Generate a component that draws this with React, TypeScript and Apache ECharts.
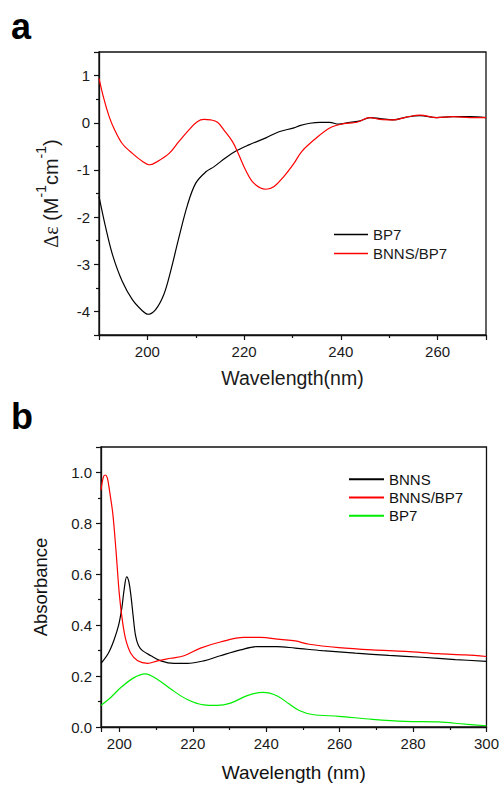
import React, { useEffect, useRef } from 'react';
import * as echarts from 'echarts';

// ---- Panel a: CD spectra ----
const cdBP7Wavelength = [190, 191.4, 192.8, 194.8, 196.9, 199, 200.1, 201.7, 203.4, 204.8, 206.5, 208.3, 210, 212.1, 213.8, 216.2, 218.3, 221, 224.5, 227.2, 230.3, 231.5, 233.6, 235.7, 237.7, 239.5, 241.9, 244, 246, 248.1, 250.8, 253.6, 256.4, 259.8, 263.2, 266.7, 270];
const cdBP7Values = [-1.56, -2.23, -2.8, -3.36, -3.75, -3.99, -4.06, -3.96, -3.64, -3.15, -2.44, -1.74, -1.28, -1.04, -0.93, -0.74, -0.6, -0.47, -0.32, -0.19, -0.11, -0.06, -0.01, 0.01, 0.01, -0.03, 0.01, 0.04, 0.11, 0.09, 0.06, 0.12, 0.15, 0.11, 0.13, 0.13, 0.11];

const cdMixWavelength = [190, 191, 192.1, 193.1, 194.8, 196.9, 199, 200.5, 202.1, 204.5, 206.5, 208.6, 210.3, 211.7, 213.1, 214.5, 215.8, 217.6, 218.9, 220.3, 222, 224.5, 226.2, 228.2, 230.3, 231.9, 234.6, 237.7, 240.5, 243.3, 246, 248.1, 250.8, 253.6, 256.4, 259.8, 263.2, 266.7, 270];
const cdMixValues = [0.94, 0.51, 0.13, -0.12, -0.44, -0.65, -0.82, -0.89, -0.82, -0.65, -0.4, -0.15, 0.02, 0.07, 0.06, 0.01, -0.15, -0.4, -0.68, -1.0, -1.28, -1.41, -1.35, -1.14, -0.86, -0.61, -0.35, -0.11, -0.02, 0.01, 0.11, 0.07, 0.06, 0.12, 0.16, 0.11, 0.13, 0.11, 0.11];

// ---- Panel b: UV absorbance ----
const uvBNNSWavelength = [195, 197, 198.5, 199.8, 200.7, 201.3, 202, 202.6, 203.2, 203.8, 204.4, 205.2, 206.3, 208.6, 211.3, 214.9, 218.5, 223, 227.5, 233, 237.5, 242.9, 247.9, 255.3, 264.3, 273.4, 282.4, 291.5, 300];
const uvBNNSValues = [0.25, 0.29, 0.34, 0.4, 0.47, 0.54, 0.59, 0.57, 0.51, 0.43, 0.36, 0.32, 0.3, 0.28, 0.26, 0.25, 0.25, 0.26, 0.28, 0.303, 0.316, 0.316, 0.31, 0.3, 0.29, 0.281, 0.274, 0.265, 0.258];

const uvMixWavelength = [195, 195.6, 196.1, 196.7, 197.3, 198.2, 199.1, 200, 200.9, 201.8, 203.1, 205, 207.7, 210.4, 214, 217.6, 222.1, 227.5, 233.9, 238.4, 243.8, 247.9, 251.7, 259.8, 268.9, 277.9, 286.9, 294.2, 300];
const uvMixValues = [0.93, 0.98, 0.99, 0.98, 0.93, 0.84, 0.69, 0.52, 0.41, 0.34, 0.29, 0.26, 0.25, 0.26, 0.27, 0.28, 0.31, 0.334, 0.352, 0.352, 0.344, 0.338, 0.325, 0.312, 0.303, 0.297, 0.288, 0.283, 0.277];

const uvBP7Wavelength = [195, 197.7, 200.4, 204, 207, 210.4, 214, 218.5, 223, 226.6, 230.3, 234.8, 239.1, 242.9, 246.3, 249, 252.6, 259.8, 268.9, 277.9, 286.9, 294.2, 300];
const uvBP7Values = [0.085, 0.117, 0.155, 0.194, 0.209, 0.187, 0.149, 0.108, 0.087, 0.085, 0.094, 0.123, 0.136, 0.123, 0.09, 0.065, 0.049, 0.042, 0.03, 0.022, 0.02, 0.011, 0.005];

const legendA = ['BP7', 'BNNS/BP7'];
const legendB = ['BNNS', 'BNNS/BP7', 'BP7'];

const pair = (xs: number[], ys: number[]) => xs.map((x, i) => [x, ys[i]]);

const FONT = '"Liberation Sans", Arial, sans-serif';
const AX = '#111';

const axisCommon = (labelFmt: (v: number) => string) => ({
  type: 'value' as const,
  axisLine: { show: true, onZero: false, lineStyle: { color: AX, width: 1.3 } },
  axisTick: { show: true, inside: false, length: 5, lineStyle: { color: AX, width: 1.2 } },
  minorTick: { show: true, splitNumber: 2, length: 3, lineStyle: { color: AX, width: 1.2 } },
  splitLine: { show: false },
  minorSplitLine: { show: false },
  axisLabel: { fontSize: 15, fontFamily: FONT, color: '#1a1a1a', margin: 9, formatter: labelFmt },
});

const lineSeries = (name: string, data: number[][], color: string) => ({
  type: 'line' as const,
  name,
  data,
  showSymbol: false,
  symbol: 'none',
  smooth: 0.35,
  lineStyle: { color, width: 1.2 },
  itemStyle: { color },
});

export default function App() {
  const refA = useRef<HTMLDivElement>(null);
  const refB = useRef<HTMLDivElement>(null);

  useEffect(() => {
    const chartA = echarts.init(refA.current!, null, { renderer: 'svg' });
    const chartB = echarts.init(refB.current!, null, { renderer: 'svg' });

    chartA.setOption({
      animation: false,
      backgroundColor: '#fff',
      graphic: [
        { type: 'text', left: 11, top: 8, style: { text: 'a', fontSize: 36, fontWeight: 'bold', fontFamily: FONT, fill: '#000' } },
      ],
      grid: { left: 99, top: 52, width: 387, height: 284, show: true, borderColor: AX, borderWidth: 1.3, backgroundColor: 'transparent' },
      legend: {
        orient: 'vertical',
        left: 329,
        top: 220,
        data: legendA,
        icon: 'rect',
        itemWidth: 34,
        itemHeight: 1.5,
        itemGap: 0,
        selectedMode: false,
        textStyle: { fontSize: 15, fontFamily: FONT, color: '#1a1a1a', lineHeight: 19 },
      },
      xAxis: {
        ...axisCommon((v: number) => (v % 20 === 0 ? String(v) : '')),
        min: 190,
        max: 270,
        name: 'Wavelength(nm)',
        nameLocation: 'middle',
        nameGap: 33,
        nameTextStyle: { fontSize: 19.5, fontFamily: FONT, color: '#1a1a1a' },
      },
      yAxis: {
        ...axisCommon((v: number) => (Number.isInteger(v) ? String(v) : '')),
        min: -4.5,
        max: 1.5,
        name: '{g|Δε} {t|(M}{s|-1}{t|cm}{s|-1}{t|)}',
        nameLocation: 'middle',
        nameGap: 38,
        nameRotate: 90,
        nameTextStyle: {
          fontSize: 20,
          fontFamily: FONT,
          color: '#1a1a1a',
          rich: {
            g: { fontSize: 20, fontFamily: '"Liberation Serif", serif', color: '#1a1a1a', lineHeight: 27, verticalAlign: 'bottom' },
            t: { fontSize: 20, fontFamily: FONT, color: '#1a1a1a', lineHeight: 27, verticalAlign: 'bottom' },
            s: { fontSize: 14, fontFamily: FONT, color: '#1a1a1a', lineHeight: 27, verticalAlign: 'top' },
          },
        },
      },
      series: [
        lineSeries('BP7', pair(cdBP7Wavelength, cdBP7Values), '#000000'),
        lineSeries('BNNS/BP7', pair(cdMixWavelength, cdMixValues), '#ff0000'),
      ],
    });

    chartB.setOption({
      animation: false,
      backgroundColor: '#fff',
      graphic: [
        { type: 'text', left: 11, top: 5, style: { text: 'b', fontSize: 36, fontWeight: 'bold', fontFamily: FONT, fill: '#000' } },
      ],
      grid: { left: 101, top: 54, width: 387, height: 285, show: true, borderColor: AX, borderWidth: 1.3, backgroundColor: 'transparent' },
      legend: {
        orient: 'vertical',
        left: 344,
        top: 72,
        data: legendB,
        icon: 'rect',
        itemWidth: 35,
        itemHeight: 2,
        itemGap: 0,
        selectedMode: false,
        textStyle: { fontSize: 15, fontFamily: FONT, color: '#111', lineHeight: 18.3 },
      },
      xAxis: {
        ...axisCommon((v: number) => (v % 20 === 0 ? String(v) : '')),
        min: 195,
        max: 300,
        name: 'Wavelength (nm)',
        nameLocation: 'middle',
        nameGap: 36,
        nameTextStyle: { fontSize: 19, fontFamily: FONT, color: '#111' },
      },
      yAxis: {
        ...axisCommon((v: number) => (v > 1.05 ? '' : v.toFixed(1))),
        min: 0,
        max: 1.1,
        name: 'Absorbance',
        nameLocation: 'middle',
        nameGap: 51,
        nameRotate: 90,
        nameTextStyle: { fontSize: 18.5, fontFamily: FONT, color: '#111' },
      },
      series: [
        lineSeries('BNNS', pair(uvBNNSWavelength, uvBNNSValues), '#000000'),
        lineSeries('BNNS/BP7', pair(uvMixWavelength, uvMixValues), '#ff0000'),
        lineSeries('BP7', pair(uvBP7Wavelength, uvBP7Values), '#00ee00'),
      ],
    });

    return () => {
      chartA.dispose();
      chartB.dispose();
    };
  }, []);

  return (
    <div style={{ position: 'fixed', left: 0, top: 0, width: 502, height: 787, background: '#fff' }}>
      <div ref={refA} style={{ position: 'absolute', left: 0, top: 0, width: 502, height: 393 }} />
      <div ref={refB} style={{ position: 'absolute', left: 0, top: 393, width: 502, height: 394 }} />
    </div>
  );
}
